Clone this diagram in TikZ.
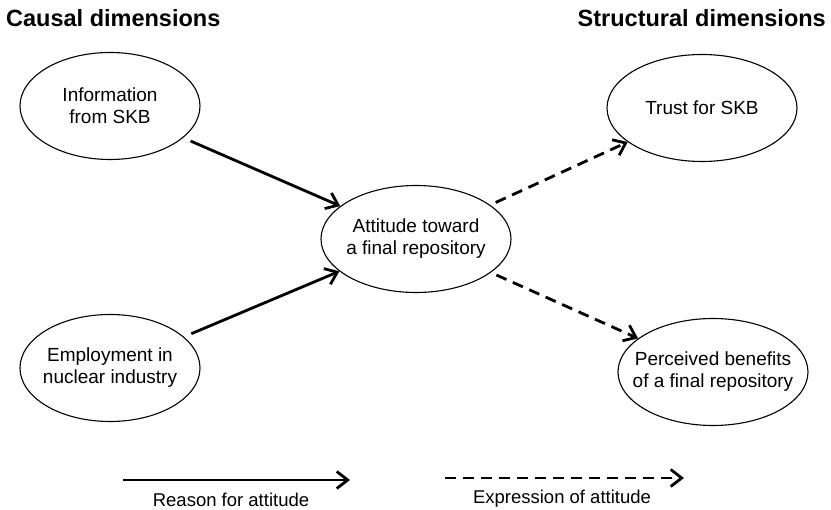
\documentclass[tikz,border=0pt]{standalone}
\usepackage{fontspec}
\setmainfont{Liberation Sans}
\usepackage{tikz}
\usetikzlibrary{positioning, arrows.meta, shapes.geometric}

\begin{document}
\begin{tikzpicture}[x=1pt, y=-1pt,
  factor/.style={ellipse, draw, line width=1.1pt, minimum width=190pt, minimum height=107pt, inner xsep=-16pt, inner ysep=0pt, align=center, font=\fontsize{19}{22}\selectfont},
  heading/.style={font=\fontsize{23.5}{27}\selectfont\bfseries, inner sep=0pt},
  legendtext/.style={font=\fontsize{18.5}{22}\selectfont, inner sep=0pt},
  reason/.style={-{Straight Barb[length=11pt, width=17pt]}, line width=2.8pt},
  expression/.style={-{Straight Barb[length=11pt, width=17pt]}, line width=2.8pt, dash pattern=on 11pt off 7pt}]
\useasboundingbox (0,0) rectangle (831,510);
% nodes %
\node[heading, anchor=west] (causal) at (6,18) {Causal dimensions};
\node[heading, anchor=east] (structural) at (826,18) {Structural dimensions};
\node[factor, minimum width=180pt] (info) at (110,106) {Information\\from SKB};
\node[factor, minimum width=180pt] (empl) at (110,368) {Employment in\\nuclear industry};
\node[factor] (att) at (416,239) {Attitude toward\\a final repository};
\node[factor] (trust) at (702,108) {Trust for SKB};
\node[factor] (benefit) at (713,372) {Perceived benefits\\of a final repository};
% legend %
\coordinate (r1) at (123,480);
\coordinate (r2) at (350,480);
\coordinate (e1) at (445,478);
\coordinate (e2) at (684,478);
\node[legendtext] (rtext) at (231,500) {Reason for attitude};
\node[legendtext] (etext) at (562,499) {Expression of attitude};
% edges %
\draw[reason, shorten <=8pt] (info) -- (att);
\draw[reason, shorten <=8pt] (empl) -- (att);
\draw[expression, shorten <=6pt] (att) -- (trust);
\draw[expression, shorten <=6pt] (att) -- (benefit);
\draw[reason] (r1) -- (r2);
\draw[expression] (e1) -- (e2);
\end{tikzpicture}
\end{document}
